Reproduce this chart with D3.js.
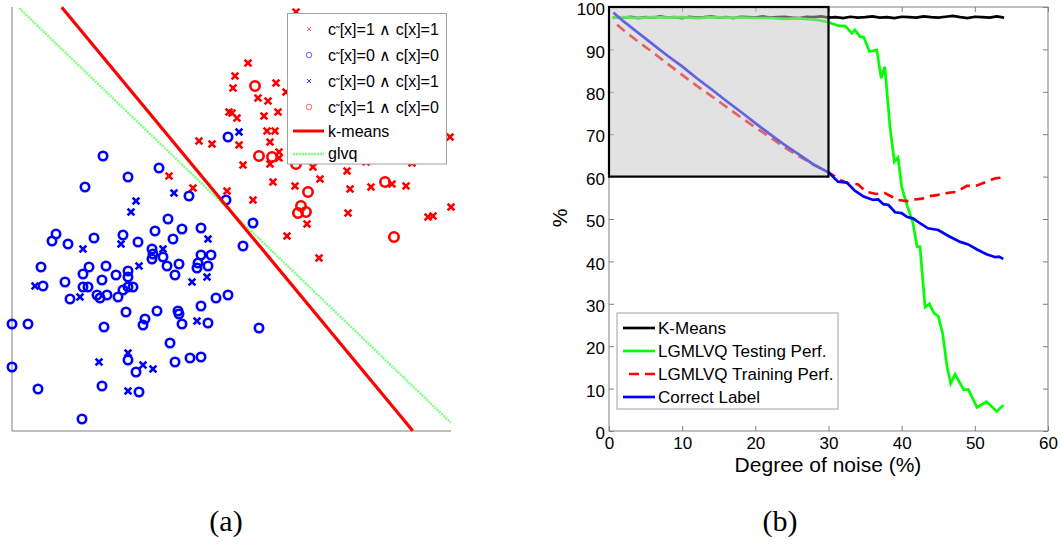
<!DOCTYPE html>
<html>
<head>
<meta charset="utf-8">
<script src="https://cdn.jsdelivr.net/npm/d3@7"></script>
<style>
  html, body { margin: 0; padding: 0; background: #fff; }
  svg { display: block; }
  text { font-family: "Liberation Sans", Arial, Helvetica, sans-serif; }
  text.caption { font-family: "Liberation Serif", "DejaVu Serif", serif; }
</style>
</head>
<body>
<svg id="fig" width="1060" height="544"></svg>
<script>
// ---------- (a) two-class sample with decision boundaries ----------
// feature coordinates [x1, x2]
const redCrossPts = [
  [28.4,41.9],[23.6,36.8],[22.3,35.5],[22.1,34.3],[26.4,34.8],[27.4,33.9],[24.6,33.3],[25.6,33.0],
  [26.6,31.9],[25.2,31.5],[21.7,31.9],[22.0,31.8],[22.5,31.3],[25.5,30.0],[26.3,30.0],[25.8,28.9],
  [22.7,28.6],[18.7,29.0],[20.0,28.7],[26.7,27.9],[26.7,27.3],[25.8,26.7],[23.1,26.6],[15.7,25.5],
  [18.1,24.3],[21.5,24.0],[24.1,23.1],[26.1,24.9],[28.3,24.5],[30.1,26.4],[30.8,25.2],[33.5,26.0],
  [33.8,24.2],[35.9,24.4],[38.0,24.7],[39.4,24.5],[40.0,26.8],[35.4,26.9],[33.6,21.8],[29.5,20.7],
  [27.5,19.5],[30.7,17.3],[41.6,21.4],[42.1,21.5],[43.9,22.4],[43.8,29.4]
];
const blueCirclePts = [
  [9.1,27.5],[14.7,26.3],[11.6,25.4],[7.3,24.4],[17.7,23.5],[21.6,29.4],[21.4,23.1],[24.1,20.8],
  [23.1,18.5],[15.6,21.2],[14.3,20.0],[17.0,20.2],[18.9,20.3],[16.1,19.2],[12.6,18.9],[11.1,19.6],
  [8.2,19.3],[4.4,19.7],[4.0,19.0],[5.6,18.7],[14.0,18.2],[14.1,17.7],[14.0,17.2],[15.1,17.4],
  [15.5,16.5],[16.7,16.7],[16.3,15.6],[18.9,17.6],[19.9,17.6],[18.6,16.8],[18.5,16.3],[19.6,16.5],
  [2.9,16.4],[7.7,16.4],[9.4,16.5],[7.1,15.7],[10.4,15.6],[11.6,16.0],[11.6,15.4],[9.0,15.1],
  [5.3,14.9],[3.1,14.5],[7.1,14.4],[7.6,14.4],[11.1,14.1],[11.6,14.4],[12.1,14.4],[5.8,13.2],
  [8.5,13.6],[8.8,13.3],[9.5,13.6],[10.6,13.4],[21.6,13.6],[20.4,13.3],[18.9,12.5],[11.4,11.9],
  [14.5,12.0],[16.6,12.0],[16.7,11.7],[13.3,11.2],[13.1,10.6],[17.0,10.7],[19.6,10.8],[9.2,10.4],
  [1.6,10.7],[0.0,10.7],[24.7,10.3],[15.8,8.8],[11.6,7.1],[12.4,5.9],[16.3,6.9],[17.8,7.3],
  [18.9,7.4],[0.0,6.4],[9.0,4.5],[2.6,4.2],[12.7,3.9],[7.0,1.2]
];
const blueCrossPts = [
  [22.7,29.9],[16.2,23.8],[12.4,23.0],[11.9,21.9],[19.6,19.2],[7.1,18.2],[10.9,18.7],[12.7,16.5],
  [15.1,18.2],[18.0,14.9],[19.5,15.4],[2.3,14.5],[6.8,13.4],[18.5,11.0],[8.7,6.9],[11.6,7.8],
  [13.1,6.6],[14.1,6.2],[11.6,4.0]
];
const redCirclePts = [
  [24.3,34.5],[24.7,27.5],[26.0,27.4],[28.4,26.7],[29.6,23.9],[28.9,22.5],[28.6,21.8],[29.4,21.9],
  [37.3,24.9],[38.2,19.4]
];
const kmeansBoundary = [[4.97,42.37],[40.07,0.03]];
const glvqBoundary   = [[0.73,42.27],[43.87,0.83]];
const legendLabelsA = ["1 \u2227 c[x]=1", "0 \u2227 c[x]=0", "0 \u2227 c[x]=1", "1 \u2227 c[x]=0"];

// ---------- (b) accuracy versus label noise ----------
const kmX = [0.5,1,2,3,4,5,6,7,8,9,10,11,12,13,14,15,16,17,18,19,20,21,22,23,24,25,26,27,28,29,30,
             31,32,33,34,35,36,37,38,39,40,41,42,43,44,45,46,47,48,49,50,51,52,53,54];
const kmY = [97.4,97.6,97.5,97.7,97.4,97.6,97.5,97.8,97.5,97.6,97.4,97.7,97.5,97.6,97.8,97.5,97.6,97.4,
             97.7,97.6,97.5,97.8,97.5,97.6,97.7,97.5,97.4,97.7,97.6,97.8,97.5,97.6,97.4,97.7,97.5,97.6,
             97.8,97.5,97.6,97.4,97.7,97.6,97.5,97.8,97.6,97.5,97.7,97.9,97.6,97.4,97.7,97.6,97.5,97.8,97.5];

const testX = [0.5,2,4,6,8,10,12,14,16,18,20,22,24,26,28,29,30,31.3,32.3,33.2,33.6,34.3,34.8,35.6,36.6,
               37.2,37.7,38.4,39.0,39.5,40.0,40.8,41.5,42.1,42.5,43.2,43.8,44.4,45.0,45.6,46.2,46.7,
               47.3,48.0,48.5,49.1,50.3,51.6,53.0,53.9];
const testY = [97.5,97.6,97.4,97.6,97.5,97.6,97.4,97.6,97.5,97.5,97.4,97.4,97.2,97.3,97.0,96.8,96.4,95.6,
               95.5,93.8,94.6,93.0,92.9,89.5,89.9,83.2,85.9,71.8,63.5,64.5,57.6,52.9,49.4,43.5,43.5,
               29.2,30.0,27.8,27.1,23.0,15.2,11.2,13.4,11.2,9.7,9.8,5.6,6.9,4.6,6.1];

const trainX = [1.1,2,4,6,8,10,12,14,16,18,20,22,24,26,28,30,31.6,32.7,34.0,35.2,36.5,37.7,38.6,39.5,
                40.7,41.8,42.8,43.9,45.0,46.4,47.5,48.9,50.3,51.6,52.8,53.9];
const trainY = [95.8,94.5,91.8,89.3,86.6,84.0,81.4,79.0,76.5,74.0,71.6,69.3,66.9,64.8,62.8,61.0,59.2,
                58.4,58.2,56.4,55.9,56.1,55.3,54.5,54.2,54.6,54.8,55.4,55.7,56.2,56.4,57.8,57.9,58.8,
                59.6,59.8];

const labelX = [0.6,2,4,6,8,10,12,14,16,18,20,22,24,26,28,30,31.3,32.5,33.6,34.8,36.1,36.8,37.5,38.2,
                39.1,40.0,40.7,41.6,42.5,43.6,45.0,46.4,48.0,49.1,50.3,51.6,52.8,53.3,53.9];
const labelY = [98.7,96.6,93.9,91.2,88.5,86.0,83.2,80.6,77.9,75.3,72.6,70.0,67.5,65.2,62.8,61.0,58.8,
                58.6,56.7,55.3,54.5,54.6,53.5,53.3,51.6,51.4,50.5,50.1,49.0,47.8,47.4,46.0,44.6,44.0,
                42.8,41.7,41.0,41.1,40.6];

const highlight = {x0: 0, x1: 30, y0: 60, y1: 100};
const xTicks = [0,10,20,30,40,50,60];
const yTicks = [0,10,20,30,40,50,60,70,80,90,100];
const seriesNames = ["K-Means", "LGMLVQ Testing Perf.", "LGMLVQ Training Perf.", "Correct Label"];

// ====================================================================
const svg = d3.select("#fig");

// ---------------- panel (a) ----------------
const ax = d3.scaleLinear().domain([0, 43.9]).range([12, 451]);
const ay = d3.scaleLinear().domain([0, 42.4]).range([431, 7]);
const pa = svg.append("g");

pa.append("line").attr("x1", ax(0)).attr("x2", ax(0)).attr("y1", ay(42.4)).attr("y2", ay(0))
  .attr("stroke", "#7f7f7f").attr("stroke-width", 1);
pa.append("line").attr("x1", ax(0)).attr("x2", ax(43.9)).attr("y1", ay(0)).attr("y2", ay(0))
  .attr("stroke", "#7f7f7f").attr("stroke-width", 1);

const crossPath = s => `M${-s},${-s}L${s},${s}M${-s},${s}L${s},${-s}`;

function crosses(g, pts, color, s, w) {
  g.selectAll(null).data(pts).enter().append("path")
    .attr("transform", d => `translate(${ax(d[0])},${ay(d[1])})`)
    .attr("d", crossPath(s)).attr("stroke", color).attr("stroke-width", w).attr("fill", "none");
}
function rings(g, pts, color, r, w) {
  g.selectAll(null).data(pts).enter().append("circle")
    .attr("cx", d => ax(d[0])).attr("cy", d => ay(d[1])).attr("r", r)
    .attr("stroke", color).attr("stroke-width", w).attr("fill", "none");
}
crosses(pa, redCrossPts, "#ff0000", 3.4, 2.7);
rings(pa, blueCirclePts, "#0000ff", 4.2, 2.6);
crosses(pa, blueCrossPts, "#0000ff", 3.4, 2.7);
rings(pa, redCirclePts, "#ff0000", 4.7, 2.6);

const aline = d3.line().x(d => ax(d[0])).y(d => ay(d[1]));
pa.append("path").attr("d", aline(glvqBoundary)).attr("stroke", "#7dff7d")
  .attr("stroke-width", 2.4).attr("stroke-dasharray", "2,1").attr("fill", "none");
pa.append("path").attr("d", aline(kmeansBoundary)).attr("stroke", "#ff0000")
  .attr("stroke-width", 3.2).attr("fill", "none");

// legend (a)
const la = pa.append("g");
la.append("rect").attr("x", 287.5).attr("y", 13.5).attr("width", 159).attr("height", 150.5)
  .attr("fill", "#fff").attr("stroke", "#a0a0a0").attr("stroke-width", 1);
const rowsA = [29, 55, 81, 107];
const legMarks = [
  {type: "x", color: "#ff5555"}, {type: "o", color: "#5555ff"},
  {type: "x", color: "#2222ff"}, {type: "o", color: "#ff5555"}
];
legMarks.forEach((m, i) => {
  const g = la.append("g").attr("transform", `translate(309,${rowsA[i]})`);
  if (m.type === "x") g.append("path").attr("d", crossPath(2)).attr("stroke", m.color).attr("stroke-width", 0.9);
  else g.append("circle").attr("r", 2.8).attr("fill", "none").attr("stroke", m.color).attr("stroke-width", 0.9);
  const t = la.append("text").attr("x", 328).attr("y", rowsA[i] + 6).attr("font-size", 16).attr("fill", "#000");
  t.append("tspan").text("c");
  t.append("tspan").attr("font-size", 11).attr("dy", -1).text("\u02dc");
  t.append("tspan").attr("dy", 1).text("[x]=" + legendLabelsA[i]);
});
la.append("line").attr("x1", 293).attr("x2", 324).attr("y1", 131).attr("y2", 131)
  .attr("stroke", "#ff0000").attr("stroke-width", 3);
la.append("text").attr("x", 328).attr("y", 137).attr("font-size", 16).text("k-means");
la.append("line").attr("x1", 293).attr("x2", 324).attr("y1", 154).attr("y2", 154)
  .attr("stroke", "#7dff7d").attr("stroke-width", 2.4).attr("stroke-dasharray", "2,1");
la.append("text").attr("x", 328).attr("y", 159).attr("font-size", 16).text("glvq");

// ---------------- panel (b) ----------------
const bx = d3.scaleLinear().domain([0, 60]).range([609, 1048]);
const by = d3.scaleLinear().domain([0, 100]).range([431, 7]);
const pb = svg.append("g");

function styleAxis(g) {
  g.select(".domain").remove();
  g.selectAll(".tick line").attr("stroke", "#808080");
  g.selectAll(".tick text").attr("fill", "#000").attr("font-size", 17);
}
pb.append("g").attr("transform", `translate(0,${by(0)})`)
  .call(d3.axisBottom(bx).tickValues(xTicks).tickSize(-5).tickPadding(6)).call(styleAxis);
pb.append("g").attr("transform", `translate(${bx(0)},0)`)
  .call(d3.axisLeft(by).tickValues(yTicks).tickSize(-5).tickPadding(4)).call(styleAxis)
  .selectAll(".tick text").attr("dy", "0.45em");
pb.append("g").attr("transform", `translate(0,${by(100)})`)
  .call(d3.axisTop(bx).tickValues(xTicks).tickSize(-5).tickFormat("")).call(styleAxis);
pb.append("g").attr("transform", `translate(${bx(60)},0)`)
  .call(d3.axisRight(by).tickValues(yTicks).tickSize(-5).tickFormat("")).call(styleAxis);
pb.append("rect").attr("x", bx(0)).attr("y", by(100)).attr("width", bx(60) - bx(0))
  .attr("height", by(0) - by(100)).attr("fill", "none").attr("stroke", "#808080").attr("stroke-width", 1);

const bline = d3.line().x(d => bx(d[0])).y(d => by(d[1]));
const zip = (xs, ys) => xs.map((x, i) => [x, ys[i]]);

pb.append("path").attr("d", bline(zip(kmX, kmY))).attr("stroke", "#000").attr("stroke-width", 2.7).attr("fill", "none");
pb.append("path").attr("d", bline(zip(testX, testY))).attr("stroke", "#00ff00").attr("stroke-width", 2.7).attr("fill", "none");
pb.append("path").attr("d", bline(zip(trainX, trainY))).attr("stroke", "#ff0000").attr("stroke-width", 2.7)
  .attr("stroke-dasharray", "10,6").attr("fill", "none");
pb.append("path").attr("d", bline(zip(labelX, labelY))).attr("stroke", "#0000ff").attr("stroke-width", 2.7).attr("fill", "none");

// translucent highlight over the low-noise region
pb.append("rect").attr("x", bx(highlight.x0)).attr("y", by(highlight.y1))
  .attr("width", bx(highlight.x1) - bx(highlight.x0)).attr("height", by(highlight.y0) - by(highlight.y1))
  .attr("fill", "#c6c6c6").attr("fill-opacity", 0.5).attr("stroke", "#000").attr("stroke-width", 2.2);

// axis titles
pb.append("text").attr("x", 828).attr("y", 472).attr("text-anchor", "middle").attr("font-size", 21)
  .text("Degree of noise (%)");
pb.append("text").attr("transform", "translate(567,218) rotate(-90)").attr("text-anchor", "middle")
  .attr("font-size", 21).text("%");

// legend (b)
const lb = pb.append("g");
lb.append("rect").attr("x", 617).attr("y", 313).attr("width", 221).attr("height", 96)
  .attr("fill", "#fff").attr("stroke", "#a0a0a0").attr("stroke-width", 1);
const rowsB = [328, 351, 374, 397];
const legStyles = [
  {color: "#000", dash: null, x1: 623},
  {color: "#00ff00", dash: null, x1: 623},
  {color: "#ff0000", dash: "10,6", x1: 629},
  {color: "#0000ff", dash: null, x1: 623}
];
seriesNames.forEach((name, i) => {
  const s = legStyles[i];
  const l = lb.append("line").attr("x1", s.x1).attr("x2", 655).attr("y1", rowsB[i]).attr("y2", rowsB[i])
    .attr("stroke", s.color).attr("stroke-width", 2.7);
  if (s.dash) l.attr("stroke-dasharray", s.dash);
  lb.append("text").attr("x", 658).attr("y", rowsB[i] + 6).attr("font-size", 17).text(name);
});

// sub-figure captions
svg.append("text").attr("class", "caption").attr("x", 226).attr("y", 531).attr("text-anchor", "middle")
  .attr("font-size", 30).text("(a)");
svg.append("text").attr("class", "caption").attr("x", 780).attr("y", 531).attr("text-anchor", "middle")
  .attr("font-size", 30).text("(b)");
</script>
</body>
</html>
